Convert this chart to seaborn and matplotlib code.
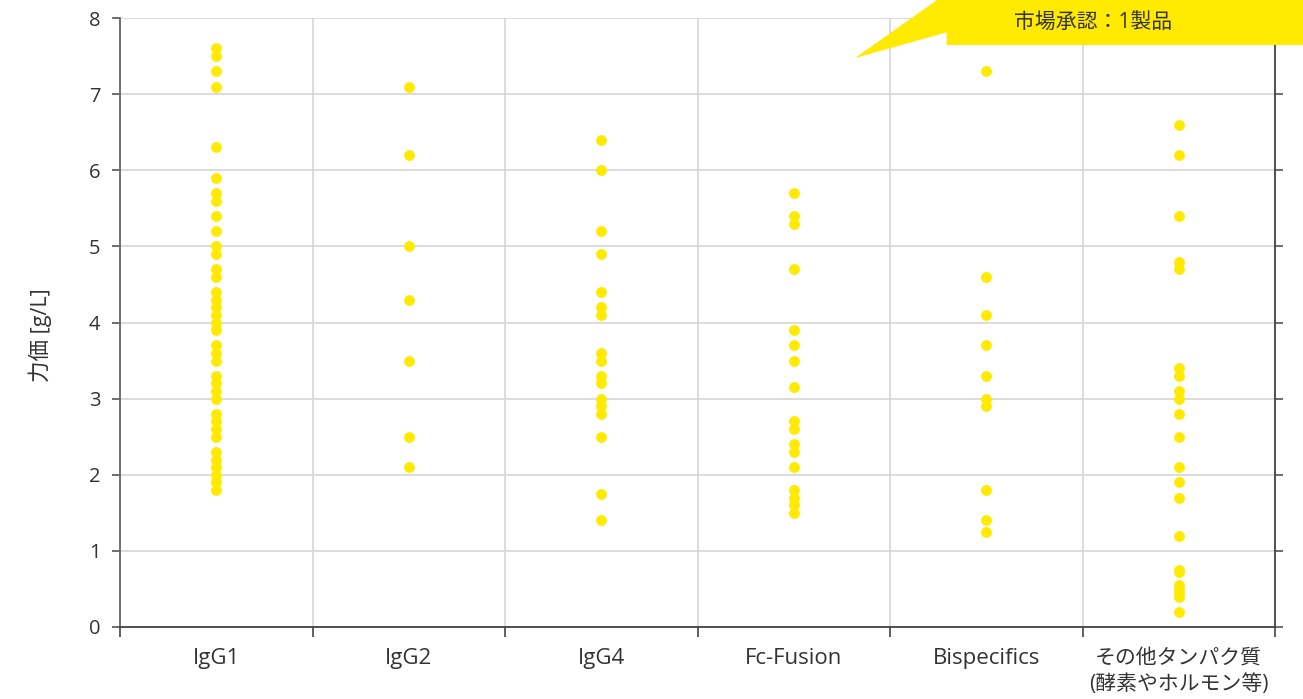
import matplotlib
matplotlib.use("Agg")
import matplotlib.pyplot as plt
import seaborn as sns
import pandas as pd
from matplotlib.patches import Polygon
from matplotlib.ticker import FixedLocator

categories = ["IgG1", "IgG2", "IgG4", "Fc-Fusion", "Bispecifics",
              "その他タンパク質\n(酵素やホルモン等)"]

igg1 = [7.6, 7.5, 7.3, 7.1, 6.3, 5.9, 5.7, 5.6, 5.4, 5.2, 5.0, 4.9, 4.7, 4.6,
        4.4, 4.3, 4.2, 4.1, 4.0, 3.9, 3.7, 3.6, 3.5, 3.3, 3.2, 3.1, 3.0, 2.8,
        2.7, 2.6, 2.5, 2.3, 2.2, 2.1, 2.0, 1.9, 1.8]
igg2 = [7.1, 6.2, 5.0, 4.3, 3.5, 2.5, 2.1]
igg4 = [6.4, 6.0, 5.2, 4.9, 4.4, 4.2, 4.1, 3.6, 3.5, 3.3, 3.2, 3.0, 2.9, 2.8,
        2.5, 1.75, 1.4]
fc_fusion = [5.7, 5.4, 5.3, 4.7, 3.9, 3.7, 3.5, 3.15, 2.7, 2.6, 2.4, 2.3, 2.1,
             1.8, 1.7, 1.6, 1.5]
bispecifics = [7.3, 4.6, 4.1, 3.7, 3.3, 3.0, 2.9, 1.8, 1.4, 1.25]
others = [6.6, 6.2, 5.4, 4.8, 4.7, 3.4, 3.3, 3.1, 3.0, 2.8, 2.5, 2.1, 1.9, 1.7,
          1.2, 0.75, 0.72, 0.55, 0.5, 0.45, 0.4, 0.2]

y_ticks = [0, 1, 2, 3, 4, 5, 6, 7, 8]
y_label = "力価 [g/L]"
callout_text = "市場承認：1製品"

series = [igg1, igg2, igg4, fc_fusion, bispecifics, others]
df = pd.DataFrame({
    "category": [c for c, vals in zip(categories, series) for _ in vals],
    "titer": [v for vals in series for v in vals],
})

sns.set_theme(style="white")
plt.rcParams["font.family"] = ["Open Sans", "Noto Sans CJK JP", "DejaVu Sans"]

YELLOW = "#FFEA00"
TEXT = "#333333"
GRID = "#D6D6D6"
FS = 14.5

W, H = 1303, 699
fig = plt.figure(figsize=(W / 100, H / 100), dpi=100)
ax = fig.add_axes([120 / W, 1 - 627 / H, (1275 - 120) / W, (627 - 18) / H])

sns.stripplot(data=df, x="category", y="titer", order=categories,
              jitter=False, color=YELLOW, size=7.8, linewidth=0, ax=ax,
              zorder=3)

ax.set_xlim(-0.5, len(categories) - 0.5)
ax.set_ylim(0, 8)
ax.set_yticks(y_ticks)
ax.set_xticks(range(len(categories)))
ax.set_xticklabels(categories)
ax.xaxis.set_minor_locator(FixedLocator([i - 0.5 for i in range(len(categories) + 1)]))

ax.grid(False)
ax.yaxis.grid(True, which="major", color=GRID, linewidth=1.2)
ax.xaxis.grid(True, which="minor", color=GRID, linewidth=1.2)
ax.set_axisbelow(True)

ax.tick_params(axis="x", which="major", length=0, pad=15, labelsize=16,
               labelcolor=TEXT)
ax.tick_params(axis="x", which="minor", bottom=True, length=7, width=1.2,
               color="#444444", direction="out")
ax.tick_params(axis="y", which="major", left=True, right=True, length=6,
               width=1.2, color="#555555", direction="out", labelsize=FS,
               labelcolor=TEXT, pad=8)
for lbl in ax.get_xticklabels():
    if "\n" in lbl.get_text():
        lbl.set_fontsize(15)
        lbl.set_linespacing(1.35)

for side in ["left", "right", "bottom"]:
    ax.spines[side].set_visible(True)
    ax.spines[side].set_linewidth(1.3)
ax.spines["left"].set_color("#666666")
ax.spines["right"].set_color("#444444")
ax.spines["bottom"].set_color("#444444")
ax.spines["top"].set_visible(False)

ax.set_xlabel("")
ax.set_ylabel(y_label, fontsize=15.5, color=TEXT)
ax.yaxis.set_label_coords(-68 / (1275 - 120), 0.48)

# callout shape (figure pixel coords from top-left)
pts = [(855, 58), (937, 0), (W, 0), (W, 45), (946.7, 45), (946.7, 32.3)]
poly = Polygon([(x / W, 1 - y / H) for x, y in pts], closed=True,
               transform=fig.transFigure, facecolor=YELLOW, edgecolor="none",
               zorder=10)
fig.patches.append(poly)
fig.text(1093 / W, 1 - 23 / H, callout_text, ha="center", va="center",
         fontsize=15, color=TEXT, zorder=11)

fig.savefig("out.png", dpi=100)
